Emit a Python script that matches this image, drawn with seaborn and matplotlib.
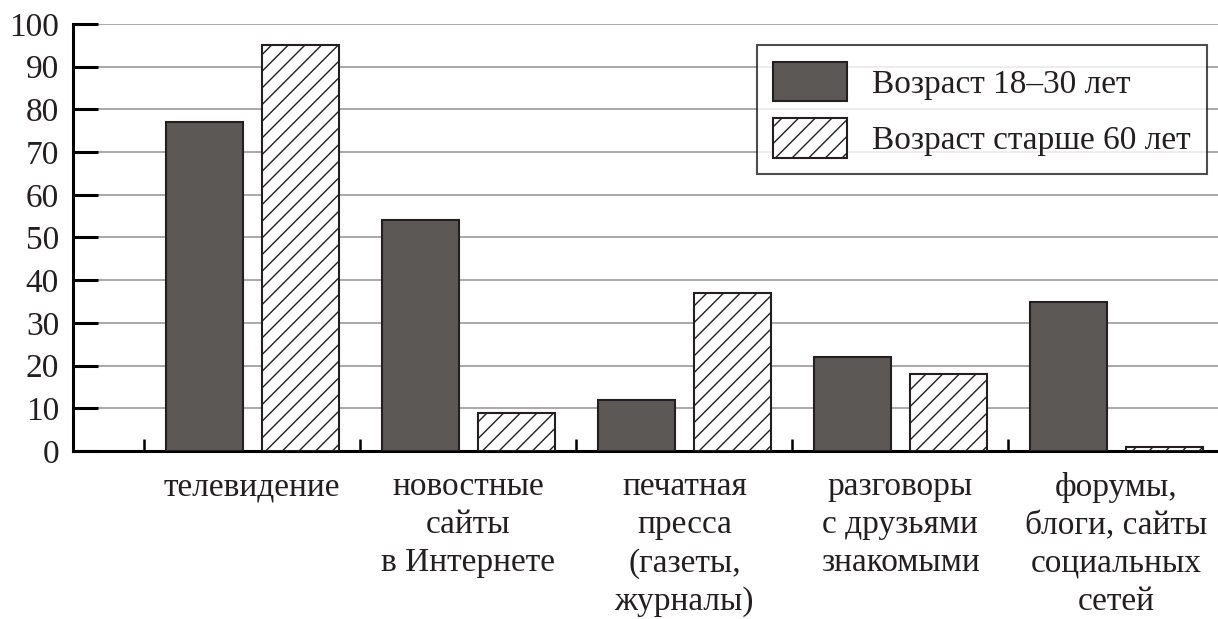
import pandas as pd
import matplotlib.pyplot as plt
import seaborn as sns

# Data
categories = [
    'телевидение',
    'новостные\nсайты\nв Интернете',
    'печатная\nпресса\n(газеты,\nжурналы)',
    'разговоры\nс друзьями\nзнакомыми',
    'форумы,\nблоги, сайты\nсоциальных\nсетей',
]
young = [77, 54, 12, 22, 35]
old = [95, 9, 37, 18, 1]
groups = ['Возраст 18–30 лет', 'Возраст старше 60 лет']

df = pd.DataFrame({
    'category': categories * 2,
    'value': young + old,
    'group': [groups[0]] * len(categories) + [groups[1]] * len(categories),
})

sns.set_style('white')
plt.rcParams['font.family'] = ['Liberation Serif', 'DejaVu Serif']
plt.rcParams['hatch.linewidth'] = 1.0
plt.rcParams['hatch.color'] = '#231f20'

fig = plt.figure(figsize=(12.18, 6.19), dpi=100)
ax = fig.add_axes([73 / 1218, 1 - 451 / 619, 1 - 73 / 1218, (451 - 24) / 619])

sns.barplot(data=df, x='category', y='value', hue='group', order=categories,
            hue_order=groups, palette=['#5b5855', 'white'], width=0.89, gap=0.2,
            edgecolor='#231f20', linewidth=1.5, saturation=1, legend=False,
            ax=ax, zorder=3)

for bar in ax.containers[1]:
    bar.set_hatch('//')

ax.set_ylim(0, 100)
ax.set_xlim(-0.83, 4.47)
ax.set_yticks(range(0, 101, 10))
ax.set_xlabel('')
ax.set_ylabel('')

ax.grid(axis='y', color='#9a9a9a', linewidth=1.2, zorder=0)
ax.grid(axis='x', visible=False)

for side in ['top', 'right']:
    ax.spines[side].set_visible(False)
for side in ['left', 'bottom']:
    ax.spines[side].set_color('black')
    ax.spines[side].set_linewidth(2.2)

ax.tick_params(axis='y', direction='in', length=18, width=2.2, labelsize=24,
               colors='black', labelcolor='#231f20', pad=10, left=True)
ax.tick_params(axis='x', which='major', length=0, labelsize=24,
               labelcolor='#231f20', pad=15)
ax.set_xticks([i - 0.5 for i in range(5)], minor=True)
ax.tick_params(axis='x', which='minor', direction='in', length=9, width=1.8,
               colors='black', bottom=True)
for lbl in ax.get_xticklabels():
    lbl.set_linespacing(1.32)
    lbl.set_verticalalignment('top')

leg = ax.legend(handles=[ax.containers[0], ax.containers[1]], labels=groups,
                loc='upper right', bbox_to_anchor=(1207 / 1218, 1 - 45 / 619),
                bbox_transform=fig.transFigure, borderaxespad=0,
                fontsize=24, frameon=True, fancybox=False, edgecolor='#231f20',
                handlelength=2.2, handleheight=1.45, handletextpad=0.75,
                labelspacing=0.5, borderpad=0.5)
leg.get_frame().set_linewidth(1.5)
for t in leg.get_texts():
    t.set_color('#231f20')

fig.savefig('out.png', dpi=100)
